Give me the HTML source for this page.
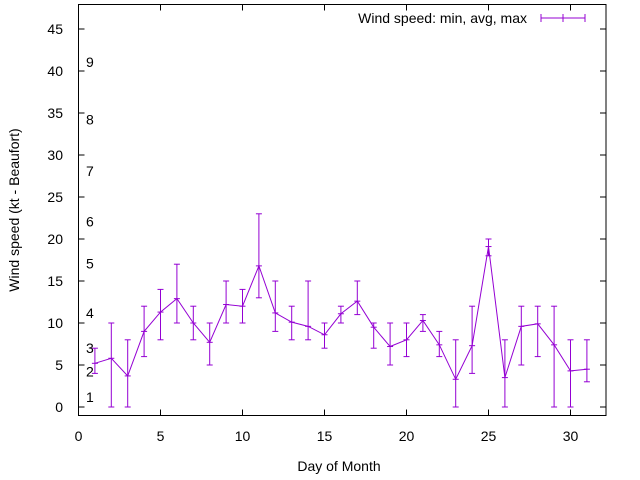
<!DOCTYPE html>
<html><head><meta charset="utf-8"><style>
body{margin:0;background:#fff}
svg{display:block;font-family:"Liberation Sans",sans-serif}
</style></head><body>
<svg id="chart" width="640" height="480" viewBox="0 0 640 480" xmlns="http://www.w3.org/2000/svg">
<rect width="640" height="480" fill="#fff"/>
<g id="axes"></g>
<g id="series"></g>
<text x="19" y="210" font-size="14" text-anchor="middle" transform="rotate(-90 19 210)">Wind speed (kt - Beaufort)</text>
<text x="339" y="471" font-size="14" text-anchor="middle">Day of Month</text>
<g>
<text x="527" y="23" font-size="14" text-anchor="end">Wind speed: min, avg, max</text>
<line x1="541" y1="18" x2="585" y2="18" stroke="#9400d3"/>
<line x1="541" y1="14" x2="541" y2="22" stroke="#9400d3"/>
<line x1="585" y1="14" x2="585" y2="22" stroke="#9400d3"/>
<line x1="563" y1="14" x2="563" y2="22" stroke="#9400d3"/>
</g>
</svg>
<script>
const days=[1,2,3,4,5,6,7,8,9,10,11,12,13,14,15,16,17,18,19,20,21,22,23,24,25,26,27,28,29,30,31];
const avgVals=[5.2,5.8,3.7,9.0,11.3,12.9,10,7.7,12.2,12.0,16.8,11.2,10.1,9.6,8.6,11.1,12.6,9.5,7.2,8.0,10.3,7.4,3.3,7.3,19.1,3.5,9.6,9.9,7.4,4.3,4.5];
const minVals=[4,0,0,6,8,10,8,5,10,10,13,9,8,8,7,10,11,7,5,6,9,6,0,4,18,0,5,6,0,0,3];
const maxVals=[7,10,8,12,14,17,12,10,15,14,23,15,12,15,10,12,15,10,10,10,11,9,8,12,20,8,12,12,12,8,8];
const xTicks=[0,5,10,15,20,25,30];
const yTicks=[0,5,10,15,20,25,30,35,40,45];
const beaufortLabels=["1","2","3","4","5","6","7","8","9"];
const beaufortY=[1.2,4.2,7.0,11.2,17.1,22.1,28.1,34.2,41.1];

const L=78.5,R=606,T=4.5,B=415.5;
const X=v=>L+v*16.4;
const Y=v=>407-v*8.4;
const NS="http://www.w3.org/2000/svg";
function mk(tag,attrs,parent){const e=document.createElementNS(NS,tag);for(const k in attrs)e.setAttribute(k,attrs[k]);parent.appendChild(e);return e;}
const ax=document.getElementById('axes');
const frame=mk('rect',{x:L,y:T,width:R-L,height:B-T,fill:'none',stroke:'#000'},ax);


xTicks.forEach(v=>{
  const x=X(v);
  mk('line',{x1:x,y1:B,x2:x,y2:B-6,stroke:'#000'},ax);
  mk('line',{x1:x,y1:T,x2:x,y2:T+6,stroke:'#000'},ax);
  const t=mk('text',{x:x,y:441,'font-size':14,'text-anchor':'middle'},ax);
  t.textContent=v;
  
  
});
yTicks.forEach(v=>{
  const y=Y(v);
  mk('line',{x1:L,y1:y,x2:L+6,y2:y,stroke:'#000'},ax);
  mk('line',{x1:R,y1:y,x2:R-6,y2:y,stroke:'#000'},ax);
  const t=mk('text',{x:63,y:y+5,'font-size':14,'text-anchor':'end'},ax);
  t.textContent=v;
  
  
});
beaufortLabels.forEach((s,i)=>{
  const t=mk('text',{x:86,y:Y(beaufortY[i])+5,'font-size':14},ax);
  t.textContent=s;
  
  
});
const sg=document.getElementById('series');
const pts=days.map((d,i)=>X(d)+','+Y(avgVals[i])).join(' ');
const pl=mk('polyline',{points:pts,fill:'none',stroke:'#9400d3'},sg);


days.forEach((d,i)=>{
  const x=X(d),g=mk('g',{stroke:'#9400d3'},sg);
  
  
  mk('line',{x1:x,y1:Y(minVals[i]),x2:x,y2:Y(maxVals[i])},g);
  mk('line',{x1:x-3,y1:Y(minVals[i]),x2:x+3,y2:Y(minVals[i])},g);
  mk('line',{x1:x-3,y1:Y(maxVals[i]),x2:x+3,y2:Y(maxVals[i])},g);
  mk('line',{x1:x-3,y1:Y(avgVals[i]),x2:x+3,y2:Y(avgVals[i])},g);
});
</script>
</body></html>
